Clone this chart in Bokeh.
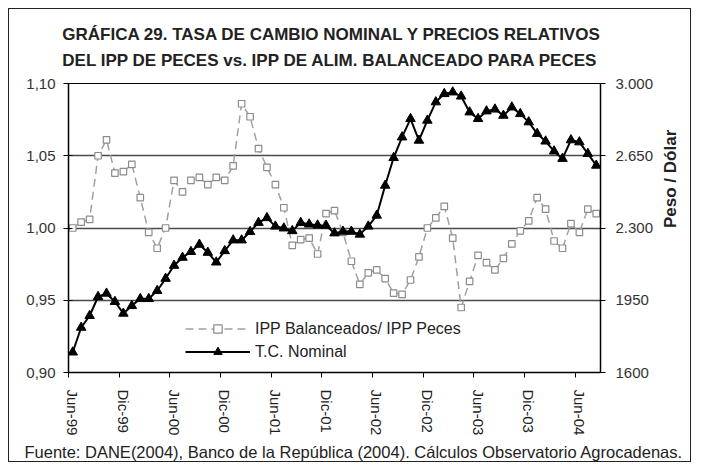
import math
from bokeh.plotting import figure
from bokeh.models import (Range1d, LinearAxis, FixedTicker, Legend,
                          LegendItem, ColumnDataSource, Title)
from bokeh.embed import file_html
from bokeh.resources import INLINE

# ---------------- data ----------------
month_abbr = ["Jun", "Jul", "Ago", "Sep", "Oct", "Nov",
              "Dic", "Ene", "Feb", "Mar", "Abr", "May"]

# IPP Balanceados / IPP Peces (left axis), Jun-99 .. Ago-04
ipp_ratio = [1.000, 1.004, 1.006, 1.050, 1.061, 1.038, 1.039, 1.044, 1.021, 0.997,
             0.986, 1.000, 1.033, 1.025, 1.033, 1.035, 1.030, 1.035, 1.033, 1.043,
             1.086, 1.077, 1.055, 1.042, 1.030, 1.014, 0.988, 0.992, 0.993, 0.982,
             1.010, 1.012, 0.997, 0.977, 0.961, 0.969, 0.971, 0.965, 0.955, 0.954,
             0.964, 0.980, 1.000, 1.007, 1.015, 0.993, 0.945, 0.963, 0.981, 0.976,
             0.971, 0.979, 0.989, 0.998, 1.005, 1.021, 1.013, 0.991, 0.986, 1.003,
             0.997, 1.013, 1.010]

# T.C. Nominal, peso / dólar (right axis)
tc_nominal = [1698, 1818, 1875, 1967, 1983, 1943, 1886, 1923, 1957, 1957,
              1996, 2055, 2118, 2157, 2185, 2220, 2181, 2134, 2189, 2241,
              2241, 2282, 2326, 2349, 2308, 2299, 2286, 2326, 2318, 2313,
              2312, 2275, 2283, 2283, 2269, 2308, 2361, 2506, 2640, 2740,
              2829, 2724, 2821, 2910, 2950, 2958, 2938, 2861, 2829, 2866,
              2875, 2845, 2885, 2853, 2813, 2757, 2720, 2672, 2636, 2726,
              2716, 2660, 2603]

x_tick_labels = ["Jun-99", "Dic-99", "Jun-00", "Dic-00", "Jun-01", "Dic-01",
                 "Jun-02", "Dic-02", "Jun-03", "Dic-03", "Jun-04"]

left_ticks = [0.90, 0.95, 1.00, 1.05, 1.10]
left_tick_labels = ["0,90", "0,95", "1,00", "1,05", "1,10"]
right_ticks = [1600, 1950, 2300, 2650, 3000]
right_tick_labels = ["1600", "1950", "2.300", "2.650", "3.000"]

title_line1 = "GRÁFICA 29.  TASA DE CAMBIO NOMINAL Y PRECIOS RELATIVOS"
title_line2 = "DEL IPP DE PECES vs. IPP DE ALIM. BALANCEADO PARA PECES"
source_text = "Fuente:  DANE(2004), Banco de la República (2004). Cálculos Observatorio Agrocadenas."
right_axis_label = "Peso / Dólar"

# categories (months)
categories = []
for k in range(len(tc_nominal)):
    m = k % 12
    yr = 1999 + (k + 5) // 12
    categories.append(f"{month_abbr[m]}-{yr % 100:02d}")
xs = list(range(len(categories)))

FONT = "Liberation Sans"

# ---------------- figure ----------------
p = figure(width=683, height=454,
           x_range=Range1d(-0.5, len(categories) - 0.5),
           y_range=Range1d(left_ticks[0], left_ticks[-1]),
           output_backend="svg", toolbar_location=None,
           min_border_left=59, min_border_right=88,
           min_border_top=74, min_border_bottom=91)
p.styles = {"border": "1px solid #222", "margin": "8px"}
p.extra_y_ranges = {"tc": Range1d(right_ticks[0], right_ticks[-1])}
p.background_fill_color = "white"
p.border_fill_color = "white"
p.outline_line_color = "black"
p.outline_line_width = 1

src = ColumnDataSource(dict(x=xs, ipp=ipp_ratio, tc=tc_nominal, cat=categories))

l1 = p.line("x", "ipp", source=src, line_color="#a0a0a0", line_width=1.5,
            line_dash="8 5")
m1 = p.scatter("x", "ipp", source=src, marker="square", size=6.5,
               line_color="#8c8c8c", fill_color="white", line_width=1.2)
l2 = p.line("x", "tc", source=src, y_range_name="tc", line_color="black",
            line_width=2)
m2 = p.scatter("x", "tc", source=src, y_range_name="tc", marker="triangle",
               size=9.5, fill_color="black", line_color="black")

# ---------------- axes ----------------
xa = p.xaxis[0]
tick_pos = [categories.index(lbl) for lbl in x_tick_labels]
xa.ticker = FixedTicker(ticks=tick_pos, minor_ticks=[t - 0.5 for t in tick_pos])
xa.major_label_overrides = {t: lbl for t, lbl in zip(tick_pos, x_tick_labels)}
xa.major_tick_line_color = None
xa.major_tick_out = 5
xa.minor_tick_line_color = "black"
xa.minor_tick_out = 5
xa.minor_tick_in = 0
xa.major_label_orientation = "vertical"
xa.major_label_standoff = 12
xa.major_label_text_font = FONT
xa.major_label_text_font_size = "15px"
xa.major_label_text_color = "#222222"
xa.axis_line_color = "black"
xa.axis_line_width = 1.5

ya = p.yaxis[0]
ya.ticker = FixedTicker(ticks=left_ticks, minor_ticks=[])
ya.major_label_overrides = {t: s for t, s in zip(left_ticks, left_tick_labels)}
ya.major_tick_in = 4
ya.major_tick_out = 5
ya.minor_tick_line_color = None
ya.major_label_standoff = 8
ya.major_label_text_font = FONT
ya.major_label_text_font_size = "15px"
ya.major_label_text_color = "#333333"
ya.axis_line_width = 1.5

ra = LinearAxis(y_range_name="tc",
                ticker=FixedTicker(ticks=right_ticks, minor_ticks=[]))
ra.major_label_overrides = {t: s for t, s in zip(right_ticks, right_tick_labels)}
ra.major_tick_in = 0
ra.major_tick_out = 5
ra.minor_tick_line_color = None
ra.major_label_standoff = 10
ra.major_label_text_font = FONT
ra.major_label_text_font_size = "15px"
ra.major_label_text_color = "#333333"
ra.axis_line_width = 1.5
ra.axis_label = right_axis_label
ra.axis_label_standoff = 14
ra.axis_label_text_font = FONT
ra.axis_label_text_font_style = "bold"
ra.axis_label_text_font_size = "17px"
ra.axis_label_text_color = "#222222"
ra.axis_label_orientation = math.pi / 2
p.add_layout(ra, "right")

p.xgrid.visible = False
p.ygrid.ticker = FixedTicker(ticks=left_ticks, minor_ticks=[])
p.ygrid.grid_line_color = "#4a4a4a"
p.ygrid.grid_line_width = 1.5

# ---------------- legend ----------------
legend = Legend(items=[
    LegendItem(label="IPP Balanceados/ IPP Peces", renderers=[l1, m1]),
    LegendItem(label="T.C. Nominal", renderers=[l2, m2]),
], location=(117, 10))
legend.background_fill_alpha = 0
legend.border_line_color = None
legend.padding = 0
legend.margin = 0
legend.spacing = 2
legend.glyph_width = 65
legend.glyph_height = 21
legend.label_height = 21
legend.label_standoff = 5
legend.label_text_font = FONT
legend.label_text_font_size = "16px"
legend.label_text_color = "#222222"
p.add_layout(legend)

# ---------------- titles & source ----------------
p.title.visible = False
title = Title(text=title_line1 + "\n" + title_line2, align="center",
              text_font=FONT, text_font_style="bold", text_font_size="17px",
              text_line_height=1.38, text_color="#222222", standoff=26)
p.add_layout(title, "above")

fuente = Title(text=source_text, align="left", offset=-44, text_font=FONT,
               text_font_style="normal", text_font_size="16.5px",
               text_color="#222222", standoff=4)
p.add_layout(fuente, "below")

open("out.html", "w").write(file_html(p, INLINE))
